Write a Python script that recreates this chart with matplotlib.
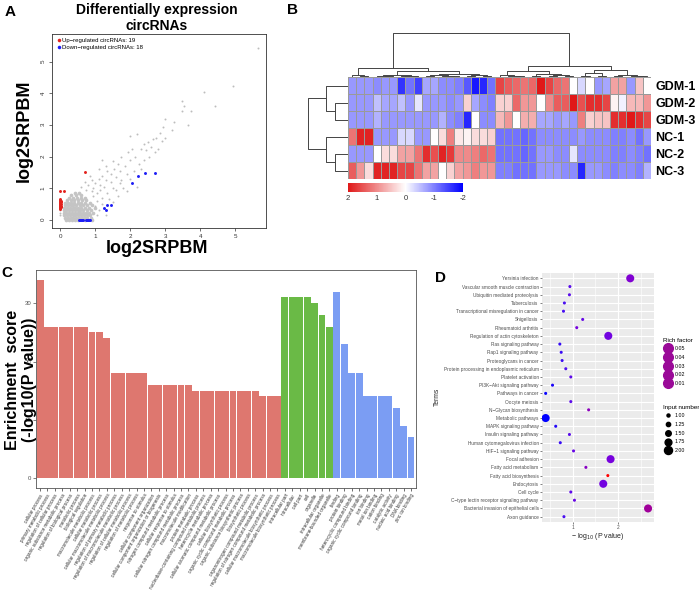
import numpy as np
import matplotlib.pyplot as plt
from matplotlib.colors import LinearSegmentedColormap, Normalize
from matplotlib.lines import Line2D

plt.rcParams['font.family'] = ['Liberation Sans', 'DejaVu Sans']

# ---------------- panel A : scatter of log2SRPBM ----------------
gray_x = [5.65, 4.95, 4.10, 4.42, 3.65, 3.48, 3.48, 3.75, 3.55, 3.00, 3.25, 3.20, 2.95, 2.85,
          2.75, 2.90, 2.65, 2.70, 2.50, 2.45, 2.30, 2.40, 2.20, 2.05, 2.15, 1.95, 1.75, 2.00,
          2.25, 2.40, 2.55, 1.85, 1.65, 1.70, 1.55, 1.90, 2.10, 1.60, 1.45, 1.35, 1.20, 1.30,
          1.10, 1.45, 1.75, 1.00, 0.90, 1.25, 1.50, 1.15, 0.95, 0.80, 1.35, 1.60, 1.05, 1.80,
          1.20, 1.40, 1.65, 1.05, 1.20, 1.50, 1.00, 1.10, 1.30, 1.05, 2.00, 2.30, 2.60, 2.80,
          3.00, 1.30, 1.50, 1.10, 0.85, 1.20, 2.00, 0.70, 0.60, 0.75, 0.90, 1.70, 2.20, 1.90,
          0.95, 1.15, 0.0, 0.0, 0.0]
gray_y = [5.45, 4.25, 4.05, 3.60, 3.00, 3.75, 3.45, 3.45, 3.60, 3.20, 3.10, 2.85, 2.95, 2.75,
          2.60, 2.50, 2.55, 2.15, 2.45, 2.20, 2.25, 2.40, 2.70, 2.25, 2.00, 2.15, 2.00, 1.90,
          1.75, 1.90, 2.00, 1.70, 1.75, 1.55, 1.60, 1.45, 1.55, 1.35, 1.45, 1.55, 1.40, 1.25,
          1.30, 1.20, 1.25, 1.15, 1.25, 1.05, 1.00, 0.95, 1.00, 1.10, 0.85, 0.95, 0.85, 1.00,
          0.70, 0.65, 0.75, 0.60, 0.50, 0.55, 0.45, 0.30, 0.15, 0.15, 1.30, 1.60, 2.30, 2.25,
          2.60, 1.70, 1.85, 1.60, 1.40, 1.90, 2.65, 1.20, 1.05, 0.95, 0.90, 1.15, 1.05, 0.90,
          0.75, 1.10, 0.15, 0.22, 0.30]
# dense cloud near the origin, read row by row
blob_rows_y = [0.00, 0.06, 0.14, 0.22, 0.30, 0.38, 0.46, 0.54, 0.62, 0.70, 0.78, 0.86]
blob_rows_x = [
    [0.18, 0.26, 0.34, 0.42, 0.50, 0.70, 0.92],
    [0.15, 0.22, 0.30, 0.38, 0.46, 0.54, 0.62, 0.70, 0.78, 0.88],
    [0.12, 0.20, 0.28, 0.36, 0.44, 0.52, 0.60, 0.68, 0.76, 0.86],
    [0.10, 0.18, 0.26, 0.34, 0.42, 0.50, 0.58, 0.66, 0.74, 0.84, 0.95],
    [0.10, 0.18, 0.26, 0.34, 0.42, 0.50, 0.58, 0.66, 0.76, 0.88],
    [0.12, 0.20, 0.28, 0.36, 0.44, 0.52, 0.60, 0.70, 0.82, 1.00],
    [0.14, 0.22, 0.30, 0.38, 0.46, 0.56, 0.66, 0.78, 0.92],
    [0.15, 0.24, 0.32, 0.40, 0.50, 0.60, 0.72, 0.86],
    [0.20, 0.30, 0.40, 0.50, 0.62, 0.74],
    [0.25, 0.36, 0.48, 0.60, 0.72],
    [0.32, 0.46, 0.60],
    [0.42, 0.55],
]
up_x = [0.0, 0.0, 0.0, 0.0, 0.0, 0.0, 0.0, 0.0, 0.0, 0.0, 0.0, 0.02, 0.02, 0.02, 0.03, 0.03,
        0.0, 0.10, 0.70]
up_y = [0.35, 0.38, 0.41, 0.44, 0.47, 0.50, 0.53, 0.56, 0.59, 0.62, 0.65, 0.40, 0.50, 0.60,
        0.45, 0.55, 0.90, 0.90, 1.50]
down_x = [0.55, 0.58, 0.60, 0.62, 0.65, 0.75, 0.78, 0.80, 0.83, 0.85, 1.25, 1.30, 1.35, 1.45,
          2.05, 2.22, 2.42, 2.70]
down_y = [0.0, 0.0, 0.0, 0.0, 0.0, 0.0, 0.0, 0.0, 0.0, 0.0, 0.38, 0.30, 0.47, 0.47,
          1.18, 1.40, 1.48, 1.48]

# ---------------- panel B : heatmap ----------------
samples = ['GDM-1', 'GDM-2', 'GDM-3', 'NC-1', 'NC-2', 'NC-3']
heat_left = [
    [-0.8, -0.8, -0.8, -0.9, -0.8, -0.8, -1.6, -1.1, -1.5, -0.7, -0.7, -0.9, -0.9, -1.0, -1.3, -1.8, -1.7, -1.1],
    [-0.8, -0.8, -0.8, -0.5, -0.7, -0.7, -0.5, -0.8, -0.2, -0.8, -0.8, -0.8, -0.9, -0.8, 0.4, -0.7, -0.9, -1.0],
    [-0.8, -0.8, -0.8, -0.6, -0.8, -0.8, -0.8, -0.8, -0.8, -0.8, -0.8, -0.6, -0.9, -1.0, -1.7, 0.0, -0.9, -0.9],
    [1.2, 1.9, 1.9, -0.8, -0.8, -0.8, -0.3, -0.3, -0.8, -0.8, 0.0, 0.3, 1.1, 0.2, 0.1, 0.3, 0.3, 0.4],
    [-0.8, -0.8, -0.8, 0.0, 0.3, 0.3, 0.8, 0.8, 1.2, 1.8, 1.5, 1.9, 1.7, 1.0, 1.0, 1.1, 1.3, 1.2],
    [1.4, 0.9, 0.3, 1.9, 1.9, 1.9, 1.6, 1.6, 1.2, 0.8, 0.8, 0.0, 0.4, 0.8, 0.9, 1.1, 0.9, 0.9],
]
heat_right = [
    [1.6, 1.4, 1.3, 1.2, 1.3, 2.0, 1.6, 1.3, 1.2, 0.0, -0.3, 0.0, -0.8, -0.7, 0.8, 0.8, -0.8, 0.5, 0.0],
    [0.4, 0.4, 1.3, 0.9, 0.9, 0.0, 1.0, 1.4, 1.4, 2.0, 1.5, 1.8, 1.8, 1.6, 0.1, -0.1, 0.6, 0.6, 0.9],
    [0.6, 0.9, 0.0, 0.7, 0.7, -0.7, -0.7, -0.8, -0.7, -0.8, 1.1, 0.4, 0.5, 0.5, 1.8, 1.8, 2.0, 1.8, 1.6],
    [-1.1, -1.1, -1.1, -1.2, -1.1, -0.9, -0.9, -0.9, -0.9, -0.9, -0.8, -0.9, -0.9, -0.9, -1.0, -1.0, -0.9, -1.1, -0.8],
    [-1.1, -1.1, -1.1, -1.2, -1.1, -0.8, -0.8, -0.9, -0.9, -0.2, -0.9, -0.9, -0.9, -0.9, -1.0, -1.0, -0.9, -1.0, -1.1],
    [-1.0, -1.0, -1.1, -1.1, -1.1, -0.8, -0.8, -0.8, -0.9, -0.9, -1.7, -0.8, -0.8, -0.9, -1.0, -0.9, -0.9, -1.0, -0.6],
]
# dendrograms as (height, left, right); leaves are column / row indices
col_tree = (1.0,
            (0.20,
             (0.05, 0, (0.03, 1, 2)),
             (0.14,
              (0.05, (0.03, 3, (0.02, 4, 5)), (0.03, (0.02, 6, 7), 8)),
              (0.06, (0.04, (0.02, 9, 10), (0.03, 11, (0.02, 12, 13))),
               (0.04, (0.02, 14, 15), (0.02, 16, 17))))),
            (0.24,
             (0.14, (0.05, 18, (0.03, 19, (0.02, 20, 21))),
              (0.06, (0.03, 22, 23), (0.04, (0.02, 24, 25), (0.02, 26, 27)))),
             (0.16, (0.08, (0.03, 28, 29), (0.03, 30, 31)),
              (0.05, (0.02, 32, 33), (0.03, 34, (0.02, 35, 36))))))
row_tree = (1.0, (0.54, 0, (0.33, 1, 2)), (0.54, 3, (0.33, 4, 5)))

# ---------------- panel C : GO enrichment ----------------
bp_terms = ['cellular process', 'primary metabolic process', 'regulation of cellular process',
            'organic substance metabolic process', 'regulation of biological process',
            'metabolic process', 'biological regulation', 'macromolecule metabolic process',
            'cellular metabolic process', 'cellular macromolecule metabolic process',
            'regulation of primary metabolic process', 'regulation of macromolecule metabolic process',
            'regulation of cellular metabolic process', 'regulation of metabolic process',
            'response to stimulus', 'cellular component organization',
            'cellular component organization or biogenesis', 'nitrogen compound metabolic process',
            'cellular response to stimulus', 'cellular nitrogen compound metabolic process',
            'macromolecule modification', 'protein metabolic process',
            'nucleobase-containing compound metabolic process', 'heterocycle metabolic process',
            'cellular aromatic compound metabolic process', 'cellular biosynthetic process',
            'organic cyclic compound metabolic process', 'organic substance biosynthetic process',
            'biosynthetic process', 'organonitrogen compound metabolic process',
            'regulation of nitrogen compound metabolic process',
            'cellular macromolecule biosynthetic process', 'macromolecule biosynthetic process']
bp_scores = [34, 26, 26, 26, 26, 26, 26, 25, 25, 24, 18, 18, 18, 18, 18, 16, 16, 16, 16, 16, 16,
             15, 15, 15, 15, 15, 15, 15, 15, 15, 14, 14, 14]
cc_terms = ['intracellular part', 'intracellular', 'cell part', 'cell', 'organelle',
            'intracellular organelle', 'membrane-bounded organelle']
cc_scores = [31, 31, 31, 31, 30, 28, 26]
mf_terms = ['binding', 'protein binding', 'heterocyclic compound binding',
            'organic cyclic compound binding', 'ion binding', 'metal ion binding', 'cation binding',
            'catalytic activity', 'nucleic acid binding', 'DNA binding', 'zinc ion binding']
mf_scores = [32, 23, 18, 18, 14, 14, 14, 14, 12, 9, 7]

# ---------------- panel D : KEGG dot plot ----------------
kegg_terms = ['Yersinia infection', 'Vascular smooth muscle contraction',
              'Ubiquitin mediated proteolysis', 'Tuberculosis',
              'Transcriptional misregulation in cancer', 'Shigellosis', 'Rheumatoid arthritis',
              'Regulation of actin cytoskeleton', 'Ras signaling pathway', 'Rap1 signaling pathway',
              'Proteoglycans in cancer', 'Protein processing in endoplasmic reticulum',
              'Platelet activation', 'PI3K\u2212Akt signaling pathway', 'Pathways in cancer',
              'Oocyte meiosis', 'N\u2212Glycan biosynthesis', 'Metabolic pathways',
              'MAPK signaling pathway', 'Insulin signaling pathway',
              'Human cytomegalovirus infection', 'HIF\u22121 signaling pathway', 'Focal adhesion',
              'Fatty acid metabolism', 'Fatty acid biosynthesis', 'Endocytosis', 'Cell cycle',
              'C\u2212type lectin receptor signaling pathway',
              'Bacterial invasion of epithelial cells', 'Axon guidance']
kegg_logp = [2.26, 0.94, 0.93, 0.82, 0.80, 1.22, 1.09, 1.78, 0.72, 0.75, 0.77, 0.85, 0.96, 0.56,
             0.41, 0.96, 1.35, 0.41, 0.63, 0.93, 0.73, 1.02, 1.83, 1.29, 1.77, 1.67, 0.96, 1.04,
             2.65, 0.81]
kegg_input = [2, 1, 1, 1, 1, 1, 1, 2, 1, 1, 1, 1, 1, 1, 1, 1, 1, 2, 1, 1, 1, 1, 2, 1, 1, 2, 1, 1,
              2, 1]
kegg_rich = [0.0146, 0.0075, 0.0074, 0.0055, 0.0053, 0.0091, 0.0118, 0.011, 0.0043, 0.0048,
             0.0049, 0.006, 0.0081, 0.0029, 0.0019, 0.0078, 0.019, 0.0014, 0.0034, 0.0074,
             0.0044, 0.0093, 0.012, 0.0175, 0.056, 0.011, 0.0081, 0.0096, 0.026, 0.0056]
rich_breaks = [0.05, 0.04, 0.03, 0.02, 0.01]
input_breaks = [1.00, 1.25, 1.50, 1.75, 2.00]

# ------------------------------------------------------------------
W, H = 699, 601
fig = plt.figure(figsize=(W / 100, H / 100), dpi=100)


def box(x0, y0, x1, y1):
    # axes from pixel corners (origin top-left)
    return fig.add_axes([x0 / W, 1 - y1 / H, (x1 - x0) / W, (y1 - y0) / H])


def ftext(x, y, s, **kw):
    return fig.text(x / W, 1 - y / H, s, **kw)


def draw_tree(ax, node, sideways=False):
    if isinstance(node, int):
        return node + 0.5, 0.0
    h, a, b = node
    pa, ha = draw_tree(ax, a, sideways)
    pb, hb = draw_tree(ax, b, sideways)
    pos = [pa, pa, pb, pb]
    hts = [ha, h, h, hb]
    if sideways:
        ax.plot(hts, pos, color='#444444', lw=0.7)
    else:
        ax.plot(pos, hts, color='#444444', lw=0.7)
    return (pa + pb) / 2, h


grey_txt = '#4d4d4d'

# ---- A ----
axa = box(52, 34, 266, 228)
bx = [x for row in blob_rows_x for x in row]
by = [y for y, row in zip(blob_rows_y, blob_rows_x) for _ in row]
axa.scatter(bx, by, s=7, c='#c4c4c4', linewidths=0)
axa.scatter(gray_x, gray_y, s=2, c='#bdbdbd', linewidths=0)
axa.scatter(up_x, up_y, s=4.5, c='#e3211c', linewidths=0,
            label=f'Up\u2212regulated circRNAs: {len(up_x)}')
axa.scatter(down_x, down_y, s=4.5, c='#1c1cf5', linewidths=0,
            label=f'Down\u2212regulated circRNAs: {len(down_x)}')
axa.set_xlim(-0.23, 5.88)
axa.set_ylim(-0.26, 5.88)
axa.set_xticks(range(6))
axa.set_yticks(range(6))
axa.tick_params(labelsize=4.5, colors='#333333', length=2.5, width=0.5, pad=2)
axa.tick_params(axis='y', labelrotation=90)
for s in axa.spines.values():
    s.set_linewidth(0.6)
    s.set_color('#333333')
axa.legend(loc='upper left', frameon=False, fontsize=4.3, handletextpad=0.1,
           borderaxespad=0.2, labelspacing=0.3, markerscale=1.2, handlelength=1.0)
ftext(157, 18, 'Differentially expression\ncircRNAs', ha='center', va='center',
      fontsize=10, fontweight='bold', linespacing=1.1)
ftext(157, 248, 'log2SRPBM', ha='center', va='center', fontsize=13, fontweight='bold')
ftext(24, 131, 'log2SRPBM', ha='center', va='center', fontsize=13, fontweight='bold',
      rotation=90)
ftext(10, 12, 'A', ha='center', va='center', fontsize=11, fontweight='bold')

# ---- B ----
heat = np.hstack([np.array(heat_left), np.array(heat_right)])
rwb = LinearSegmentedColormap.from_list('rwb', ['#0000ff', '#ffffff', '#e01818'])
axh = box(348, 77, 651, 179)
mesh = axh.pcolormesh(heat, cmap=rwb, vmin=-2, vmax=2, edgecolors='#9a9a9a', linewidth=0.5)
axh.set_xlim(0, heat.shape[1])
axh.set_ylim(heat.shape[0], 0)
axh.set_xticks([])
axh.yaxis.tick_right()
axh.set_yticks(np.arange(len(samples)) + 0.5)
axh.set_yticklabels(samples, fontsize=9, fontweight='bold')
axh.tick_params(axis='y', length=0, pad=3)
for s in axh.spines.values():
    s.set_visible(False)

axcd = box(348, 33, 651, 77)
draw_tree(axcd, col_tree)
axcd.set_xlim(0, heat.shape[1])
axcd.set_ylim(0, 1.0)
axcd.axis('off')

axrd = box(308, 77, 348, 179)
draw_tree(axrd, row_tree, sideways=True)
axrd.set_xlim(1.0, 0)
axrd.set_ylim(len(samples), 0)
axrd.axis('off')

cax = box(348, 183, 463, 192)
cb = fig.colorbar(mesh, cax=cax, orientation='horizontal')
cb.outline.set_visible(False)
cax.invert_xaxis()
cb.set_ticks([2, 1, 0, -1, -2])
cb.set_ticklabels(['2', '1', '0', '-1', '-2'])
cax.tick_params(length=0, labelsize=5.5, colors='#333333', pad=2)
ftext(293, 10, 'B', ha='center', va='center', fontsize=11, fontweight='bold')

# ---- C ----
terms_c = bp_terms + cc_terms + mf_terms
scores_c = bp_scores + cc_scores + mf_scores
colors_c = ['#de776f'] * len(bp_terms) + ['#6aba46'] * len(cc_terms) + ['#7b9df3'] * len(mf_terms)
axc = box(35.6, 270, 415.5, 488)
xc = np.arange(len(terms_c))
axc.bar(xc, scores_c, width=0.93, color=colors_c)
axc.set_xlim(-0.6, len(terms_c) - 0.4)
axc.set_ylim(-1.7, 35.7)
axc.set_yticks([0, 10, 20, 30])
axc.set_xticks(xc)
axc.set_xticklabels(terms_c, rotation=60, ha='right', rotation_mode='anchor',
                    fontsize=3.3, color=grey_txt)
axc.tick_params(axis='y', labelsize=4.3, colors=grey_txt, length=2, width=0.5, pad=1)
axc.tick_params(axis='x', length=2, width=0.5, pad=1.5, colors='#333333')
for s in axc.spines.values():
    s.set_linewidth(0.6)
    s.set_color('#555555')
ftext(21, 380, 'Enrichment  score\n(-log10(P value))', ha='center', va='center',
      fontsize=11.5, fontweight='bold', rotation=90, linespacing=1.1)
ftext(7, 273, 'C', ha='center', va='center', fontsize=11, fontweight='bold')

# ---- D ----
rich_cmap = LinearSegmentedColormap.from_list(
    'rich', [(0.0, '#0000ff'), (0.08, '#5010f0'), (0.2, '#7a00dc'), (0.45, '#a0009a'),
             (1.0, '#ff0000')])
rich_norm = Normalize(vmin=0.0014, vmax=0.056)


def dot_pt(n):
    return 2.2 + (n - 1) * 3.6


axd = box(542, 273.4, 654, 521.6)
axd.set_facecolor('#ebebeb')
axd.set_axisbelow(True)
yd = np.arange(len(kegg_terms))
axd.scatter(kegg_logp, yd, s=[dot_pt(n) ** 2 for n in kegg_input],
            c=kegg_rich, cmap=rich_cmap, norm=rich_norm, linewidths=0, zorder=3)
axd.set_xlim(0.33, 2.78)
axd.set_ylim(len(kegg_terms) - 0.4, -0.6)
axd.set_xticks([1, 2])
axd.set_xticks([0.5, 1.5, 2.5], minor=True)
axd.set_yticks(yd)
axd.set_yticklabels(kegg_terms)
axd.grid(True, which='major', color='white', lw=0.8)
axd.grid(True, which='minor', axis='x', color='white', lw=0.4)
axd.tick_params(which='major', labelsize=3.4, colors=grey_txt, length=1.5, width=0.5, pad=1)
axd.tick_params(which='minor', length=0)
for s in axd.spines.values():
    s.set_visible(False)
ftext(598, 537, '\u2212 log$_{10}$ (P value)', ha='center', va='center', fontsize=5,
      color='#222222')
ftext(437, 397, 'Terms', ha='center', va='center', fontsize=4.8, rotation=90, color='#222222')
ftext(440, 278, 'D', ha='center', va='center', fontsize=11, fontweight='bold')

rich_handles = [Line2D([], [], marker='o', ls='', ms=7, color='#9a0a98') for _ in rich_breaks]
leg1 = axd.legend(rich_handles, [f'{v:.2f}' for v in rich_breaks], title='Rich factor',
                  loc='upper left', bbox_to_anchor=(660 / W, 1 - 335 / H),
                  bbox_transform=fig.transFigure, frameon=False, fontsize=3.8,
                  title_fontsize=4.5, labelspacing=0.7, handlelength=2.0,
                  handletextpad=0.3, borderpad=0, alignment='left')
axd.add_artist(leg1)
input_handles = [Line2D([], [], marker='o', ls='', ms=dot_pt(v), color='black')
                 for v in input_breaks]
axd.legend(input_handles, [f'{v:.2f}' for v in input_breaks], title='Input number',
           loc='upper left', bbox_to_anchor=(660 / W, 1 - 402 / H),
           bbox_transform=fig.transFigure, frameon=False, fontsize=3.8,
           title_fontsize=4.5, labelspacing=0.7, handlelength=2.0,
           handletextpad=0.3, borderpad=0, alignment='left')

fig.savefig('out.png', dpi=100)
